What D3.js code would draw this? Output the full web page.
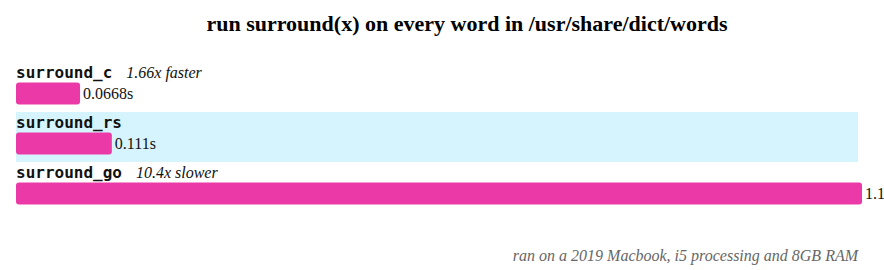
<!DOCTYPE html>
<meta charset="utf-8">
<style>
  body { margin: 0; background: #fff; }
  svg { display: block; }
  .title { font: bold 22px "Liberation Serif", "Times New Roman", serif; }
  .name { font: bold 16px "DejaVu Sans Mono", monospace; fill: #111; }
  .note { font: italic 16px "Liberation Serif", serif; fill: #111; }
  .val { font: 16px "Liberation Serif", serif; fill: #111; }
  .foot { font: italic 16px "Liberation Serif", serif; fill: #666; }
</style>
<body>
<script src="https://d3js.org/d3.v7.min.js"></script>
<script>

var names = ["surround_c", "surround_rs", "surround_go"];
var seconds = [0.0668, 0.111, 1.154];
var baseline = "surround_rs";

var width = 884, height = 270;

var svg = d3.select("body").append("svg")
    .attr("width", width)
    .attr("height", height);

var y = d3.scaleBand().domain(names).range([62, 212]);
var w = d3.scaleLinear().domain([0, d3.max(seconds)]).range([16, 846]);

var base = seconds[names.indexOf(baseline)];
var rows = names.map(function(n, i) { return {name: n, v: seconds[i]}; });

svg.append("text")
    .attr("class", "title")
    .attr("x", 467)
    .attr("y", 31)
    .attr("text-anchor", "middle")
    .text("run surround(x) on every word in /usr/share/dict/words");

var row = svg.selectAll(".row")
    .data(rows)
  .enter().append("g")
    .attr("class", "row")
    .attr("transform", function(d) { return "translate(0," + y(d.name) + ")"; });

// highlight the baseline implementation
row.filter(function(d) { return d.name == baseline; })
  .append("rect")
    .attr("x", 16)
    .attr("width", 842)
    .attr("height", y.bandwidth())
    .attr("fill", "#d6f4fd");

row.append("text")
    .attr("class", "name")
    .attr("x", 16)
    .attr("y", 16)
    .text(function(d) { return d.name; });

row.filter(function(d) { return d.name != baseline; })
  .append("text")
    .attr("class", "note")
    .attr("x", function(d) { return 16 + d.name.length * 9.63 + 14; })
    .attr("y", 16)
    .text(function(d) {
      return d.v < base ? (base / d.v).toFixed(2) + "x faster"
                        : (d.v / base).toPrecision(3) + "x slower";
    });

row.append("rect")
    .attr("x", 16)
    .attr("y", 20.5)
    .attr("rx", 3)
    .attr("width", function(d) { return w(d.v); })
    .attr("height", 22)
    .attr("fill", "#eb3aa8");

// value label runs past the right edge for the long bar, as in the original
row.append("text")
    .attr("class", "val")
    .attr("x", function(d) { return 16 + w(d.v) + 3; })
    .attr("y", 37)
    .text(function(d) { return d.v.toPrecision(3) + "s"; });

svg.append("text")
    .attr("class", "foot")
    .attr("x", 858)
    .attr("y", 261)
    .attr("text-anchor", "end")
    .text("ran on a 2019 Macbook, i5 processing and 8GB RAM");

</script>
